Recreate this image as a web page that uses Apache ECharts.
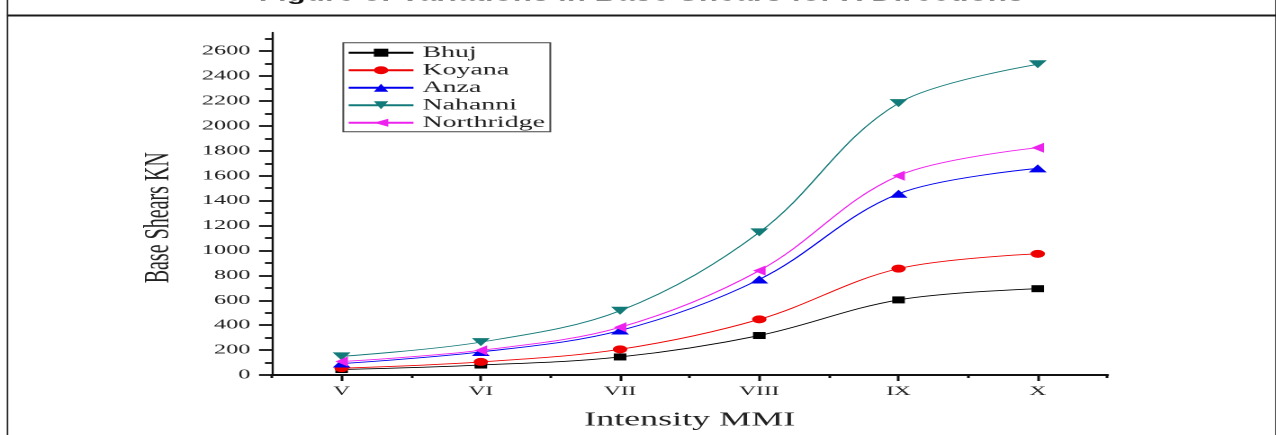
<!DOCTYPE html>
<html>
<head>
<meta charset="utf-8">
<script src="https://cdn.jsdelivr.net/npm/echarts@6/dist/echarts.min.js"></script>
<style>
  html, body { margin: 0; padding: 0; background: #fff; overflow: hidden; }
  #chart { position: absolute; left: 0; top: 0; width: 709.44px; height: 435px;
           transform: scaleX(1.8); transform-origin: 0 0; }
</style>
</head>
<body>
<div id="chart"></div>
<script>
// ---- data ----
const categories = ['V', 'VI', 'VII', 'VIII', 'IX', 'X'];
const bhuj       = [44, 80, 145, 317, 603, 693];
const koyana     = [55, 105, 206, 447, 854, 973];
const anza       = [92, 185, 357, 767, 1455, 1659];
const nahanni    = [150, 264, 516, 1145, 2183, 2495];
const northridge = [108, 198, 383, 838, 1600, 1825];
const yMajorTicks = [0, 200, 400, 600, 800, 1000, 1200, 1400, 1600, 1800, 2000, 2200, 2400, 2600];
const yMinorTicks = [100, 300, 500, 700, 900, 1100, 1300, 1500, 1700, 1900, 2100, 2300, 2500, 2700];
const titleText = 'Figure 8: Variations in Base Shears for X Directions';

const SERIF = "'Liberation Serif', 'Times New Roman', serif";
const K = 1.8; // horizontal stretch of the picture

const chart = echarts.init(document.getElementById('chart'), null, { devicePixelRatio: 2, renderer: 'canvas' });

function mk(name, data, color, symbol, size, rotate) {
  return {
    name: name, type: 'line', data: data, smooth: 0.35,
    symbol: symbol, symbolSize: size, symbolRotate: rotate || 0,
    itemStyle: { color: color },
    lineStyle: { color: color, width: 0.9 },
    emphasis: { disabled: true }
  };
}

chart.setOption({
  animation: false,
  grid: { left: 151.1, right: 93.8, top: 32.5, bottom: 56, containLabel: false },
  graphic: [
    { type: 'line', shape: { x1: 7 / K, y1: 15.5, x2: 1277 / K, y2: 15.5 }, style: { stroke: '#1a1a1a', lineWidth: 2 } },
    { type: 'line', shape: { x1: 7.5 / K, y1: 0, x2: 7.5 / K, y2: 435 }, style: { stroke: '#1a1a1a', lineWidth: 1.5 / K } },
    { type: 'line', shape: { x1: 1276 / K, y1: 0, x2: 1276 / K, y2: 435 }, style: { stroke: '#1a1a1a', lineWidth: 1.5 / K } },
    { type: 'text', x: 641.5 / K, y: 4, style: { text: titleText, fill: '#111', align: 'center', verticalAlign: 'bottom',
        font: "bold 17.4px 'Liberation Sans', Arial, sans-serif" } }
  ],
  legend: {
    orient: 'vertical', left: 190.7, top: 42.7,
    padding: [2, 3, 1, 2], itemGap: 1.5, itemWidth: 36, itemHeight: 10,
    borderColor: '#444', borderWidth: 1,
    textStyle: { fontFamily: SERIF, fontSize: 15.5, color: '#222' },
    data: ['Bhuj', 'Koyana', 'Anza', 'Nahanni', 'Northridge']
  },
  xAxis: [
    {
      type: 'category', data: categories, boundaryGap: true, position: 'bottom',
      axisLine: { show: true, lineStyle: { color: '#111', width: 2 } },
      axisTick: { show: true, alignWithLabel: true, length: 6, lineStyle: { color: '#111', width: 1.5 } },
      axisLabel: { fontFamily: SERIF, fontSize: 13, color: '#222', margin: 10 },
      splitLine: { show: false },
      name: 'Intensity MMI', nameLocation: 'middle', nameGap: 35,
      nameTextStyle: { fontFamily: SERIF, fontSize: 20, color: '#222' }
    },
    {
      type: 'category', data: categories, boundaryGap: true, position: 'bottom',
      axisLine: { show: false },
      axisTick: { show: true, alignWithLabel: false, length: 3, lineStyle: { color: '#111', width: 1.5 } },
      axisLabel: { show: false },
      splitLine: { show: false }
    }
  ],
  yAxis: [
    {
      type: 'value', min: 0, max: 2750, position: 'left',
      axisLine: { show: true, lineStyle: { color: '#111', width: 1.2 } },
      axisTick: { show: true, customValues: yMajorTicks, length: 7.2, lineStyle: { color: '#111', width: 1.8 } },
      axisLabel: { customValues: yMajorTicks, fontFamily: SERIF, fontSize: 13.5, color: '#222', margin: 12,
                   formatter: function (v) { return String(v); } },
      splitLine: { show: false },
      name: 'Base Shears KN', nameLocation: 'middle', nameGap: 53,
      nameTextStyle: { fontFamily: SERIF, fontSize: 20, color: '#222', padding: [0, 28, 0, 0] }
    },
    {
      type: 'value', min: 0, max: 2750, position: 'left',
      axisLine: { show: false },
      axisTick: { show: true, customValues: yMinorTicks, length: 3.9, lineStyle: { color: '#111', width: 1.8 } },
      axisLabel: { show: false },
      splitLine: { show: false }
    }
  ],
  series: [
    mk('Bhuj', bhuj, '#000000', 'rect', 7),
    mk('Koyana', koyana, '#ee0000', 'circle', 8),
    mk('Anza', anza, '#0000ee', 'triangle', [10, 8]),
    mk('Nahanni', nahanni, '#127a78', 'triangle', [10, 8], 180),
    mk('Northridge', northridge, '#ee22ee', 'triangle', [10, 7], 90)
  ]
});
</script>
</body>
</html>
